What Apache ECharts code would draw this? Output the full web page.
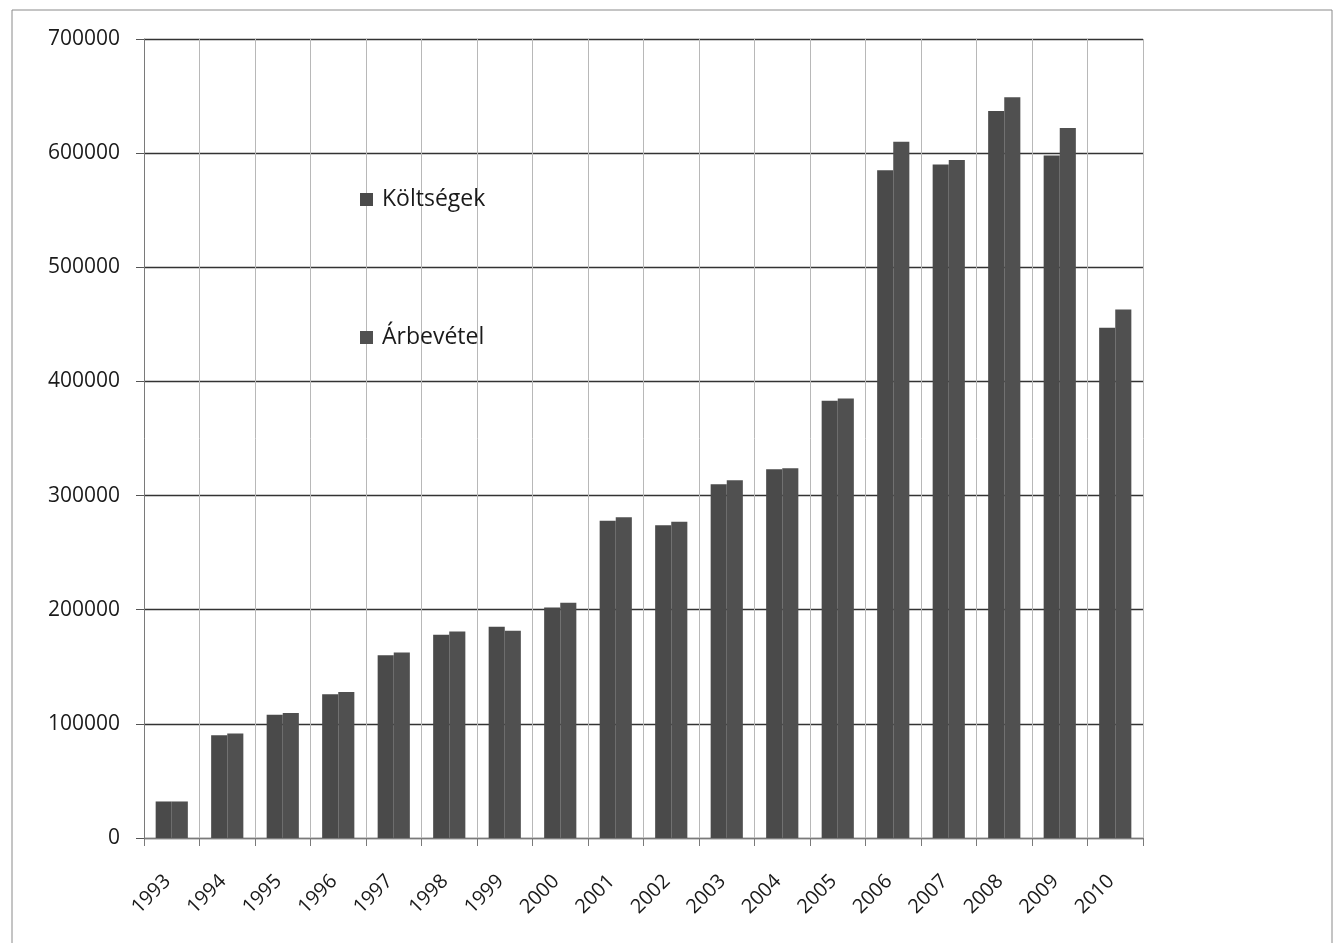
<!DOCTYPE html>
<html>
<head>
<meta charset="utf-8">
<script src="https://cdn.jsdelivr.net/npm/echarts@6/dist/echarts.min.js"></script>
<style>
html,body{margin:0;padding:0;background:#fff;}
#c{width:1341px;height:943px;}
</style>
</head>
<body>
<div id="c"></div>
<script>
const years = ['1993','1994','1995','1996','1997','1998','1999','2000','2001','2002','2003','2004','2005','2006','2007','2008','2009','2010'];
const koltsegek = [32000, 90000, 108000, 126000, 160000, 178000, 185000, 202000, 278000, 274000, 310000, 323000, 383000, 585000, 590000, 637000, 598000, 447000];
const arbevetel = [32000, 91500, 109500, 128000, 162500, 181000, 181500, 206000, 281000, 277000, 313500, 324000, 385000, 610000, 594000, 649000, 622000, 463000];
const yTicks = {min: 0, max: 700000, interval: 100000};

const chart = echarts.init(document.getElementById('c'));
const font = '"Open Sans", Lato, sans-serif';
chart.setOption({
  animation: false,
  backgroundColor: '#fff',
  graphic: [{
    type: 'rect',
    shape: {x: 12, y: 10, width: 1320, height: 940},
    style: {fill: 'none', stroke: '#8a8a8a', lineWidth: 1}
  }],
  grid: {left: 144, right: 198, top: 39, bottom: 105, containLabel: false},
  legend: {
    orient: 'vertical',
    left: 355,
    top: 183,
    itemWidth: 13,
    itemHeight: 13,
    itemGap: 115,
    icon: 'rect',
    textStyle: {fontFamily: font, fontSize: 23, color: '#1a1a1a', padding: [0,0,0,4]},
    data: ['Költségek', 'Árbevétel']
  },
  xAxis: {
    type: 'category',
    data: years,
    boundaryGap: true,
    axisLine: {show: true, lineStyle: {color: '#7a7a7a', width: 1}},
    axisTick: {show: true, length: 8, lineStyle: {color: '#7a7a7a'}},
    splitLine: {show: true, lineStyle: {color: '#b8b8b8', width: 1}},
    axisLabel: {rotate: 45, fontFamily: font, fontSize: 20, color: '#1a1a1a', margin: 36,
                padding: [0, 6, 0, 0], interval: 0}
  },
  yAxis: {
    type: 'value',
    min: yTicks.min, max: yTicks.max, interval: yTicks.interval,
    axisLine: {show: true, lineStyle: {color: '#7a7a7a', width: 1}},
    axisTick: {show: true, length: 8, lineStyle: {color: '#555'}},
    splitLine: {show: true, lineStyle: {color: '#333', width: 1.3}},
    axisLabel: {fontFamily: font, fontSize: 21, color: '#1a1a1a', margin: 24,
                formatter: function (v) { return String(v); }}
  },
  series: [
    {name: 'Költségek', type: 'bar', data: koltsegek, barGap: '0%', barCategoryGap: '42%',
     itemStyle: {color: '#4a4a4a'}},
    {name: 'Árbevétel', type: 'bar', data: arbevetel,
     itemStyle: {color: '#505050'}}
  ]
});
</script>
</body>
</html>
